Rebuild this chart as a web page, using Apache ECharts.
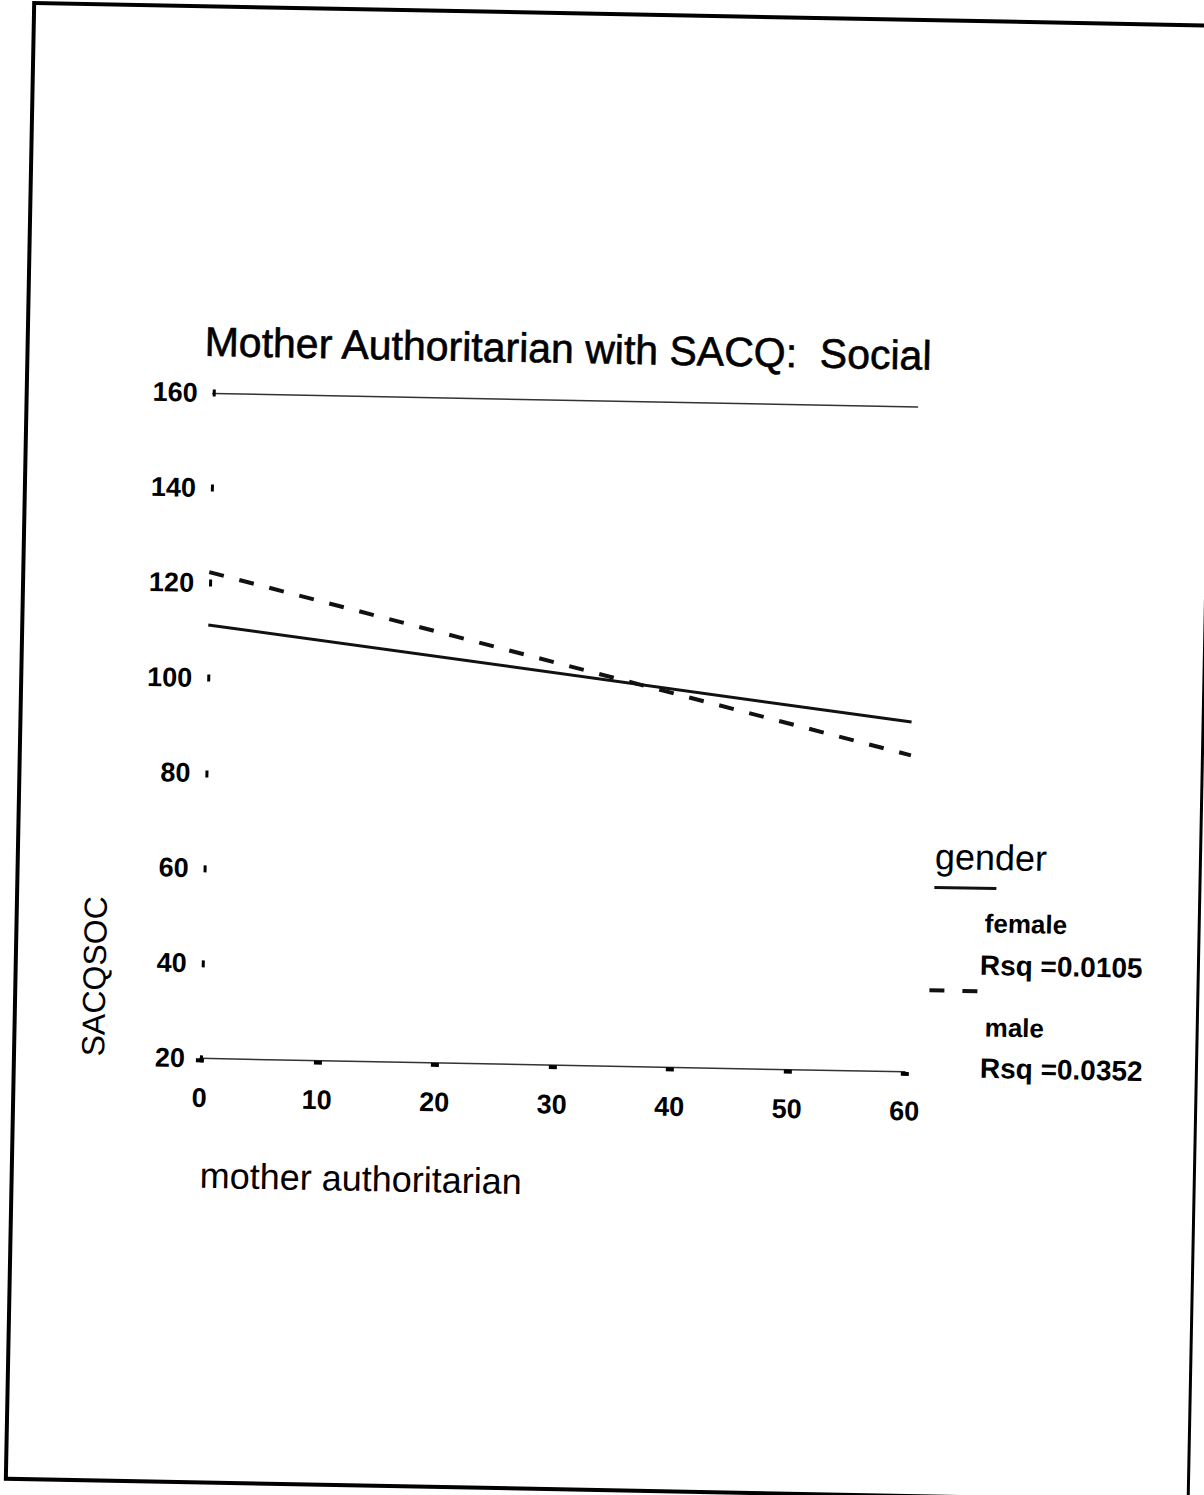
<!DOCTYPE html>
<html>
<head>
<meta charset="utf-8">
<title>Mother Authoritarian with SACQ: Social</title>
<script src="https://cdn.jsdelivr.net/npm/echarts@6/dist/echarts.min.js"></script>
<style>
  html, body { margin: 0; padding: 0; background: #fff; overflow: hidden; }
  /* the page sits slightly turned, as a scanned sheet does */
  #chart { width: 1204px; height: 1495px; transform: rotate(1.1deg); transform-origin: 602px 747.5px; }
</style>
</head>
<body>
<div id="chart"></div>
<script>
// Regression fit lines of SACQ social score on mother authoritarian, by gender
const xTicks = [0, 10, 20, 30, 40, 50, 60];
const yTicks = [20, 40, 60, 80, 100, 120, 140, 160];
const fitX = [0, 60];
const femaleFit = [111.2, 93.6];
const maleFit = [122.3, 86.6];
const groupNames = ['female', 'male'];
const rsqValues = ['0.0105', '0.0352'];
const legendTitle = 'gender';
const chartTitle = 'Mother Authoritarian with SACQ:  Social';
const xName = 'mother authoritarian';
const yName = 'SACQSOC';

const FONT = "'Liberation Sans', Arial, Helvetica, sans-serif";
const INK = '#000';

const pairs = (xs, ys) => xs.map((x, i) => [x, ys[i]]);
const xMin = xTicks[0], xMax = xTicks[xTicks.length - 1], xStep = xTicks[1] - xTicks[0];
const yMin = yTicks[0], yMax = yTicks[yTicks.length - 1], yStep = yTicks[1] - yTicks[0];

const chart = echarts.init(document.getElementById('chart'), null, { renderer: 'svg' });

const legendText = (txt, x, y, size) => ({
  type: 'text', x: x, y: y,
  style: { text: txt, fill: INK, font: 'bold ' + size + 'px ' + FONT, textAlign: 'left', textVerticalAlign: 'middle' }
});

chart.setOption({
  animation: false,
  backgroundColor: '#fff',
  title: {
    text: chartTitle, left: 197, top: 329, padding: 0,
    textStyle: {
      fontFamily: FONT, fontSize: 41, fontWeight: 'normal', color: INK,
      textBorderColor: INK, textBorderWidth: 0.6
    }
  },
  grid: { left: 206, right: 293, top: 400.5, bottom: 429, containLabel: false },
  xAxis: [
    {
      type: 'value', min: xMin, max: xMax, interval: xStep,
      axisLine: { show: true, lineStyle: { color: '#333', width: 1.5 } },
      axisTick: { show: true, inside: false, length: 4, lineStyle: { color: INK, width: 8 } },
      axisLabel: { margin: 26, color: INK, fontFamily: FONT, fontSize: 27, fontWeight: 'bold' },
      splitLine: { show: false }
    },
    {
      type: 'value', position: 'top', min: xMin, max: xMax, interval: xStep,
      axisLine: { show: true, lineStyle: { color: '#333', width: 1.5 } },
      axisTick: { show: false }, axisLabel: { show: false }, splitLine: { show: false }
    }
  ],
  yAxis: {
    type: 'value', min: yMin, max: yMax, interval: yStep,
    axisLine: { show: false },
    axisTick: { show: true, inside: true, length: 3, lineStyle: { color: INK, width: 7 } },
    axisLabel: { margin: 15, color: INK, fontFamily: FONT, fontSize: 27, fontWeight: 'bold' },
    splitLine: { show: false }
  },
  series: [
    {
      name: groupNames[0], type: 'line', xAxisIndex: 0, data: pairs(fitX, femaleFit),
      symbol: 'none', lineStyle: { color: '#111', width: 3, type: 'solid' }
    },
    {
      name: groupNames[1], type: 'line', xAxisIndex: 0, data: pairs(fitX, maleFit),
      symbol: 'none', lineStyle: { color: '#111', width: 4, type: [15, 16] }
    }
  ],
  graphic: [
    // sheet border
    { type: 'rect', shape: { x: 20, y: 14, width: 1183, height: 1476 },
      style: { fill: 'none', stroke: INK, lineWidth: 4 } },
    // axis titles
    { type: 'text', x: 208, y: 1183,
      style: { text: xName, fill: INK, font: '36px ' + FONT, textAlign: 'left', textVerticalAlign: 'middle' } },
    { type: 'text', x: 99, y: 986, rotation: Math.PI / 2,
      style: { text: yName, fill: INK, font: '32px ' + FONT, textAlign: 'center', textVerticalAlign: 'middle' } },
    // legend
    { type: 'text', x: 937, y: 850,
      style: { text: legendTitle, fill: INK, font: '36px ' + FONT, textAlign: 'left', textVerticalAlign: 'middle' } },
    { type: 'line', shape: { x1: 937, y1: 881, x2: 999, y2: 881 },
      style: { stroke: '#111', lineWidth: 3 } },
    legendText(groupNames[0], 988, 916, 26),
    legendText('Rsq =' + rsqValues[0], 984, 958, 28),
    { type: 'line', shape: { x1: 934, y1: 984, x2: 983, y2: 984 },
      style: { stroke: '#111', lineWidth: 4, lineDash: [15, 18] } },
    legendText(groupNames[1], 990, 1020, 26),
    legendText('Rsq =' + rsqValues[1], 986, 1061, 28)
  ]
});
</script>
</body>
</html>
